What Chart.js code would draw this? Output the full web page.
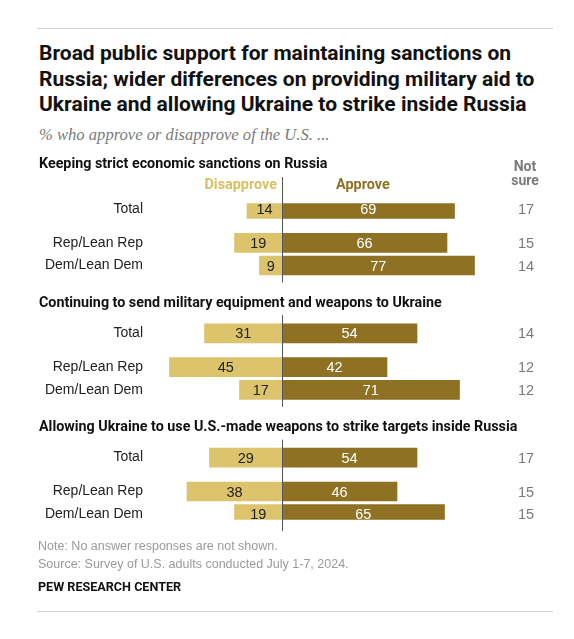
<!DOCTYPE html>
<html>
<head>
<meta charset="utf-8">
<script src="https://cdn.jsdelivr.net/npm/chart.js@4/dist/chart.umd.min.js"></script>
<style>
  body { margin: 0; background: #fff; }
  #wrap { position: relative; width: 574px; height: 639px; overflow: hidden; }
  #chart { position: absolute; left: 0; top: 0; }
  .rule { position: absolute; left: 37px; width: 516px; height: 0; border-top: 1.5px solid #cfcfcf; }
  #title { position: absolute; left: 39px; top: 41px; font: bold 21px Roboto, sans-serif; line-height: 25.5px; color: #111; }
  #subtitle { position: absolute; left: 39px; top: 125px; font: italic 16.6px "Liberation Serif", serif; color: #7a7a7a; }
  .note { position: absolute; left: 38px; font: 12.5px "Liberation Sans", sans-serif; color: #9a9a9a; }
  #pew { position: absolute; left: 38px; top: 579px; font: bold 12.6px Roboto, sans-serif; color: #111; }
</style>
</head>
<body>
<div id="wrap">
  <div class="rule" style="top:28px"></div>
  <div id="title">Broad public support for maintaining sanctions on<br>Russia; wider differences on providing military aid to<br>Ukraine and allowing Ukraine to strike inside Russia</div>
  <div id="subtitle">% who approve or disapprove of the U.S. ...</div>
  <canvas id="chart" width="574" height="639"></canvas>
  <div class="note" style="top:539px">Note: No answer responses are not shown.</div>
  <div class="note" style="top:557px">Source: Survey of U.S. adults conducted July 1-7, 2024.</div>
  <div id="pew">PEW RESEARCH CENTER</div>
  <div class="rule" style="top:611px"></div>
</div>
<script>
const sections = [
  "Keeping strict economic sanctions on Russia",
  "Continuing to send military equipment and weapons to Ukraine",
  "Allowing Ukraine to use U.S.-made weapons to strike targets inside Russia"
];
const groups = ["Total", "Rep/Lean Rep", "Dem/Lean Dem"];
const disapprove = [14, 19, 9, 31, 45, 17, 29, 38, 19];
const approve = [69, 66, 77, 54, 42, 71, 54, 46, 65];
const notSure = [17, 15, 14, 14, 12, 12, 17, 15, 15];

// rows sit on a grid of small slots so the gaps between groups come out right
const groupSlot = [0, 3, 5];
const sectionStep = 11;
const slotCount = 28;

const labels = new Array(slotCount).fill("");
const disData = new Array(slotCount).fill(null);
const appData = new Array(slotCount).fill(null);
const rowSlot = [];
sections.forEach((s, si) => {
  groups.forEach((g, gi) => {
    const k = si * 3 + gi;
    const slot = si * sectionStep + groupSlot[gi];
    labels[slot] = g + "|" + k;
    disData[slot] = -disapprove[k];
    appData[slot] = approve[k];
    rowSlot.push(slot);
  });
});

const lightGold = "#dcc46c";
const darkGold = "#8f7124";

const textPlugin = {
  id: "pewText",
  afterDatasetsDraw(chart) {
    const ctx = chart.ctx;
    const x = chart.scales.x;
    const y = chart.scales.y;
    const zero = x.getPixelForValue(0);
    ctx.save();
    ctx.textBaseline = "middle";

    sections.forEach((s, si) => {
      const yTotal = y.getPixelForValue(rowSlot[si * 3]);
      const yDem = y.getPixelForValue(rowSlot[si * 3 + 2]);
      const headY = si === 0 ? yTotal - 45 : yTotal - 30;
      ctx.fillStyle = "#111";
      ctx.font = "bold 14.3px Roboto, sans-serif";
      ctx.textAlign = "left";
      ctx.fillText(s, 39, headY);

      // zero line
      ctx.strokeStyle = "#555";
      ctx.lineWidth = 1;
      ctx.beginPath();
      const top = si === 0 ? yTotal - 32 : yTotal - 18;
      ctx.moveTo(Math.round(zero) + 0.5, top);
      ctx.lineTo(Math.round(zero) + 0.5, yDem + 17);
      ctx.stroke();

      if (si === 0) {
        ctx.font = "bold 14.4px Roboto, sans-serif";
        ctx.fillStyle = "#d8bf62";
        ctx.textAlign = "right";
        ctx.fillText("Disapprove", zero - 5, yTotal - 24);
        ctx.fillStyle = darkGold;
        ctx.textAlign = "left";
        ctx.fillText("Approve", zero + 54, yTotal - 24);
        ctx.fillStyle = "#7a7a7a";
        ctx.textAlign = "center";
        ctx.font = "bold 14px Roboto, sans-serif";
        ctx.fillText("Not", 525, yTotal - 42);
        ctx.fillText("sure", 525, yTotal - 28);
      }
    });

    rowSlot.forEach((slot, k) => {
      const yy = y.getPixelForValue(slot);
      ctx.font = "14px 'Liberation Sans', sans-serif";
      ctx.fillStyle = "#222";
      ctx.textAlign = "right";
      ctx.fillText(groups[k % 3], 143, yy);

      ctx.font = "14.5px 'Liberation Sans', sans-serif";
      ctx.textAlign = "center";
      ctx.fillStyle = "#222";
      ctx.fillText(String(disapprove[k]), x.getPixelForValue(-disapprove[k] / 2), yy + 1);
      ctx.fillStyle = "#fff";
      ctx.fillText(String(approve[k]), x.getPixelForValue(approve[k] / 2), yy + 1);
      ctx.fillStyle = "#7a7a7a";
      ctx.fillText(String(notSure[k]), 526, yy + 1);
    });
    ctx.restore();
  }
};

new Chart(document.getElementById("chart"), {
  type: "bar",
  data: {
    labels: labels,
    datasets: [
      { label: "Disapprove", data: disData, backgroundColor: lightGold, barThickness: 19 },
      { label: "Approve", data: appData, backgroundColor: darkGold, barThickness: 19 }
    ]
  },
  options: {
    indexAxis: "y",
    responsive: false,
    animation: false,
    layout: { padding: { left: 157, right: 92, top: 203.35, bottom: 119.25 } },
    plugins: { legend: { display: false }, tooltip: { enabled: false } },
    scales: {
      x: { stacked: true, min: -50, max: 80, display: false },
      y: { stacked: true, display: false }
    }
  },
  plugins: [textPlugin]
});
</script>
</body>
</html>
